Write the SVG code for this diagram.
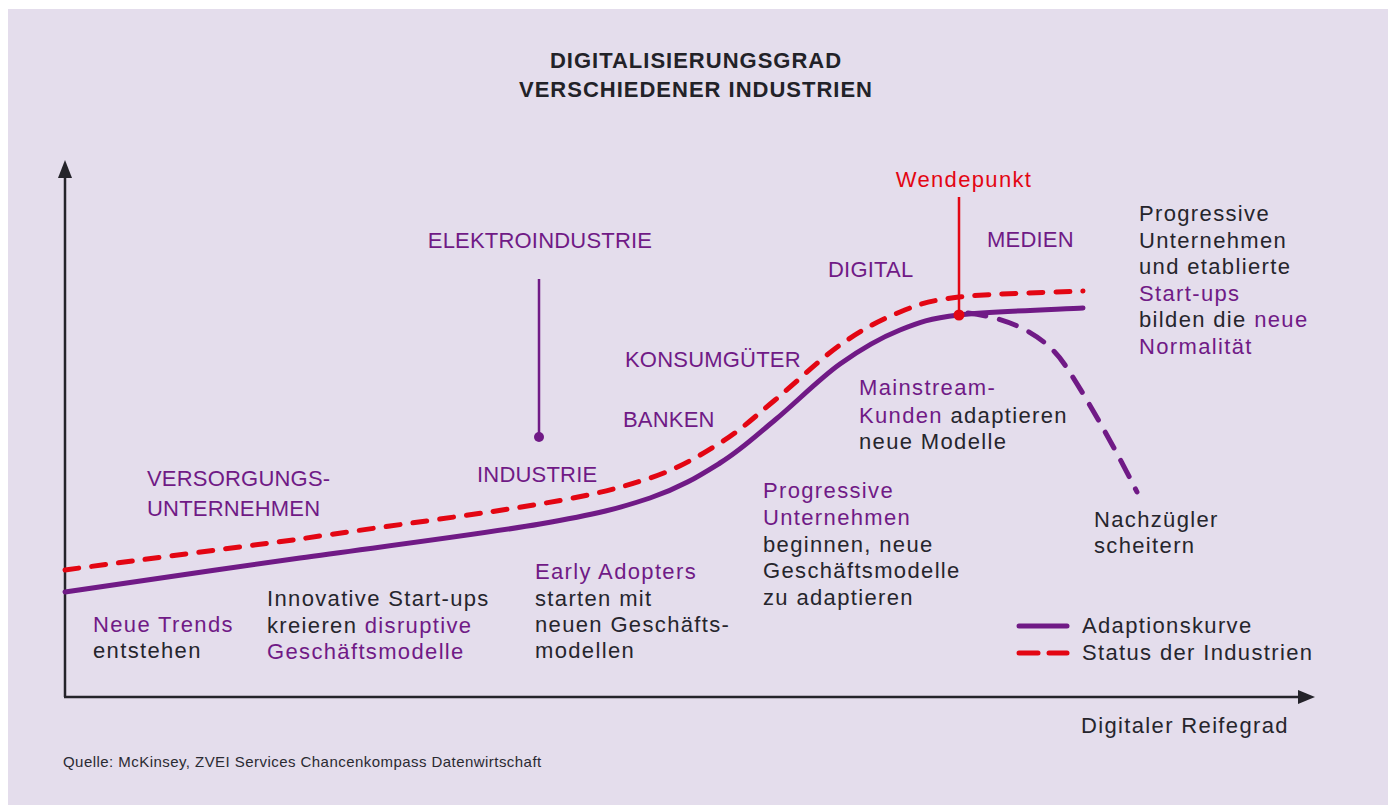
<svg xmlns="http://www.w3.org/2000/svg" width="1388" height="805" viewBox="0 0 1388 805">
  <style>
    text { font-family: "Liberation Sans", Arial, sans-serif; }
    .title { font-size: 22px; font-weight: bold; fill: #222228; letter-spacing: 1px; text-anchor: middle; }
    .body { font-size: 22px; fill: #26252c; letter-spacing: 1.35px; }
    .p { fill: #701a86; }
    .red { fill: #e30613; }
    .cap { font-size: 22px; fill: #701a86; letter-spacing: 0.2px; }
    .src { font-size: 15px; fill: #2a2a32; letter-spacing: 0.45px; }
    .axis { stroke: #24232a; stroke-width: 2.5; fill: none; }
    .solid { stroke: #701a86; stroke-width: 5; fill: none; stroke-linecap: round; }
    .status { stroke: #e30613; stroke-width: 5; fill: none; stroke-linecap: round; stroke-dasharray: 14 13; }
    .late { stroke: #701a86; stroke-width: 5; fill: none; stroke-linecap: round; stroke-dasharray: 18 14; }
  </style>

  <!-- panel background -->
  <rect x="8" y="9" width="1380" height="796" fill="#e4ddec"/>

  <!-- title -->
  <g id="title">
    <text class="title" x="696" y="68">DIGITALISIERUNGSGRAD</text>
    <text class="title" x="696" y="97">VERSCHIEDENER INDUSTRIEN</text>
  </g>

  <!-- axes -->
  <g id="axes">
    <line class="axis" x1="65" y1="697" x2="65" y2="176"/>
    <polygon points="65,160 58,178 72,178" fill="#24232a"/>
    <line class="axis" x1="64" y1="697" x2="1300" y2="697"/>
    <polygon points="1315,697 1298,690 1298,704" fill="#24232a"/>
    <text class="body" x="1081" y="733">Digitaler Reifegrad</text>
  </g>

  <!-- curves (smooth splines through sampled points) -->
  <g id="connectors">
    <path id="status-curve" class="status" d="M65,570 C104,564.5 221,549.5 300,539 C379,527 482,514 540,504 C598,494 620,488 650,478 C680,468 699,456 720,443 C741,430 755,416.5 775,400 C795,383.5 819,360 840,345 C861,330 880,320 900,312 C920,303.8 928.5,300.7 959,297 C989.5,293.3 1062,292.2 1083,291"/>
    <path id="adoption-curve" class="solid" d="M65,592 C104,586 221,569 300,558 C379,547 482,534 540,524 C598,514 620,508 650,498 C680,488 699,476 720,463 C741,450 755,436.5 775,420 C795,403.5 819,379 840,364 C861,349 880,338 900,330 C920,322 928.5,318.7 959,315 C989.5,311.3 1062,309.2 1083,308"/>
    <path id="laggard-curve" class="late" d="M968,313 C1010,318 1045,335 1065,365 C1085,395 1115,448 1137,492"/>
    <!-- markers -->
    <line x1="539" y1="279" x2="539" y2="437" stroke="#701a86" stroke-width="2.5"/>
    <circle cx="539" cy="437" r="5" fill="#701a86"/>
    <line x1="959" y1="197" x2="959" y2="315" stroke="#e30613" stroke-width="2.5"/>
    <circle cx="959" cy="315" r="5.5" fill="#e30613"/>
  </g>

  <!-- industry labels -->
  <g id="industry-utilities">
    <text class="cap" x="147" y="486">VERSORGUNGS-</text>
    <text class="cap" x="147" y="516">UNTERNEHMEN</text>
  </g>
  <g id="industry-electro"><text class="cap" x="540" y="248" text-anchor="middle">ELEKTROINDUSTRIE</text></g>
  <g id="industry-industry"><text class="cap" x="477" y="482">INDUSTRIE</text></g>
  <g id="industry-banks"><text class="cap" x="623" y="427">BANKEN</text></g>
  <g id="industry-consumer"><text class="cap" x="625" y="367">KONSUMGÜTER</text></g>
  <g id="industry-digital"><text class="cap" x="828" y="277">DIGITAL</text></g>
  <g id="industry-media"><text class="cap" x="987" y="247">MEDIEN</text></g>
  <g id="turning-point"><text class="body red" x="964" y="187" text-anchor="middle">Wendepunkt</text></g>

  <!-- phase descriptions -->
  <g id="phase-trends">
    <text class="body p" x="93" y="632">Neue Trends</text>
    <text class="body" x="93" y="658">entstehen</text>
  </g>
  <g id="phase-startups">
    <text class="body" x="267" y="606">Innovative Start-ups</text>
    <text class="body" x="267" y="633">kreieren <tspan class="p">disruptive</tspan></text>
    <text class="body p" x="267" y="659">Geschäftsmodelle</text>
  </g>
  <g id="phase-early">
    <text class="body p" x="535" y="579">Early Adopters</text>
    <text class="body" x="535" y="606">starten mit</text>
    <text class="body" x="535" y="632">neuen Geschäfts-</text>
    <text class="body" x="535" y="658">modellen</text>
  </g>
  <g id="phase-progressive">
    <text class="body p" x="763" y="498">Progressive</text>
    <text class="body p" x="763" y="525">Unternehmen</text>
    <text class="body" x="763" y="552">beginnen, neue</text>
    <text class="body" x="763" y="578">Geschäftsmodelle</text>
    <text class="body" x="763" y="605">zu adaptieren</text>
  </g>
  <g id="phase-mainstream">
    <text class="body p" x="859" y="395">Mainstream-</text>
    <text class="body" x="859" y="423"><tspan class="p">Kunden</tspan> adaptieren</text>
    <text class="body" x="859" y="449">neue Modelle</text>
  </g>
  <g id="phase-laggards">
    <text class="body" x="1094" y="527">Nachzügler</text>
    <text class="body" x="1094" y="553">scheitern</text>
  </g>
  <g id="phase-normal">
    <text class="body" x="1139" y="221">Progressive</text>
    <text class="body" x="1139" y="248">Unternehmen</text>
    <text class="body" x="1139" y="274">und etablierte</text>
    <text class="body p" x="1139" y="301">Start-ups</text>
    <text class="body" x="1139" y="327">bilden die <tspan class="p">neue</tspan></text>
    <text class="body p" x="1139" y="354">Normalität</text>
  </g>

  <!-- legend -->
  <g id="legend">
    <line x1="1019" y1="626" x2="1067" y2="626" stroke="#701a86" stroke-width="5" stroke-linecap="round"/>
    <line x1="1019" y1="653" x2="1038" y2="653" stroke="#e30613" stroke-width="5" stroke-linecap="round"/>
    <line x1="1049" y1="653" x2="1067" y2="653" stroke="#e30613" stroke-width="5" stroke-linecap="round"/>
    <text class="body" x="1082" y="633">Adaptionskurve</text>
    <text class="body" x="1082" y="660">Status der Industrien</text>
  </g>

  <!-- source -->
  <g id="source"><text class="src" x="63" y="767">Quelle: McKinsey, ZVEI Services Chancenkompass Datenwirtschaft</text></g>
</svg>
